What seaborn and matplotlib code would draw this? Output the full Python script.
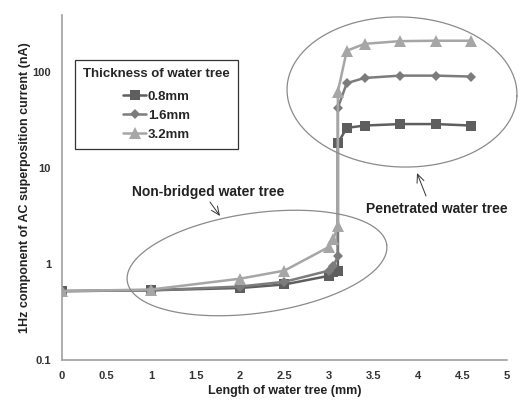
import numpy as np
import pandas as pd
import matplotlib
matplotlib.use("Agg")
import matplotlib.pyplot as plt
import seaborn as sns

# values
length_mm = [0, 1, 2, 2.5, 3.0, 3.05, 3.1, 3.1, 3.2, 3.4, 3.8, 4.2, 4.6]
current_08 = [0.52, 0.53, 0.56, 0.61, 0.75, 0.83, 0.85, 18, 26, 27.5, 28.5, 28.5, 27.5]
current_16 = [0.52, 0.53, 0.58, 0.65, 0.85, 0.95, 1.2, 42, 76, 86, 91, 91, 89]
current_32 = [0.52, 0.54, 0.70, 0.85, 1.5, 1.8, 2.5, 62, 165, 195, 208, 210, 210]
series_names = ["0.8mm", "1.6mm", "3.2mm"]

sns.set_theme(style="white")
plt.rcParams["font.family"] = ["Liberation Sans", "DejaVu Sans"]

rows = []
for name, vals in zip(series_names, [current_08, current_16, current_32]):
    for i, (x, y) in enumerate(zip(length_mm, vals)):
        rows.append({"x": x, "y": y, "Thickness": name, "order": i})
df = pd.DataFrame(rows)

fig = plt.figure(figsize=(5.22, 4.03), dpi=100)
ax = fig.add_axes([0.119, 0.107, 0.852, 0.856])

palette = {"0.8mm": "#5e5e5e", "1.6mm": "#7c7c7c", "3.2mm": "#a6a6a6"}
markers = {"0.8mm": "s", "1.6mm": "D", "3.2mm": "^"}
sizes = {"0.8mm": 7, "1.6mm": 5, "3.2mm": 8}

for name in series_names:
    sub = df[df["Thickness"] == name]
    sns.lineplot(data=sub, x="x", y="y", sort=False, estimator=None,
                 color=palette[name], marker=markers[name],
                 markersize=sizes[name], markeredgewidth=0,
                 linewidth=1.8, label=name, ax=ax)

ax.set_yscale("log")
ax.set_xlim(0, 5)
ax.set_ylim(0.1, 390)
ax.set_xticks(np.arange(0, 5.01, 0.5))
ax.set_xticklabels(["0", "0.5", "1", "1.5", "2", "2.5", "3", "3.5", "4", "4.5", "5"])
ax.set_yticks([0.1, 1, 10, 100])
ax.set_yticklabels(["0.1", "1", "10", "100"])

for side in ["top", "right"]:
    ax.spines[side].set_visible(False)
for side in ["left", "bottom"]:
    ax.spines[side].set_color("#a0a0a0")
    ax.spines[side].set_linewidth(1.2)
ax.tick_params(axis="both", which="both", direction="in", color="#a0a0a0",
               labelsize=8, labelcolor="#333333")
ax.tick_params(which="major", length=4, width=0.8)
ax.tick_params(which="minor", length=3, width=0.6)
ax.tick_params(axis="x", pad=8)
ax.tick_params(axis="y", pad=8)
for lab in ax.get_xticklabels() + ax.get_yticklabels():
    lab.set_fontweight("bold")

ax.set_xlabel("Length of water tree (mm)", fontsize=9, fontweight="bold",
              color="#222222", labelpad=3)
ax.set_ylabel("1Hz component of AC superposition current (nA)", fontsize=9,
              fontweight="bold", color="#222222", labelpad=1)


# ellipses drawn in pixel-like space of the axes
def ellipse(cx, cy, a, b, angle):
    t = np.linspace(0, 2 * np.pi, 200)
    th = np.deg2rad(angle)
    px = cx + a * np.cos(t) * np.cos(th) - b * np.sin(t) * np.sin(th)
    py = cy + a * np.cos(t) * np.sin(th) + b * np.sin(t) * np.cos(th)
    bbox = ax.get_window_extent()
    return (px - bbox.x0) / bbox.width, (py - bbox.y0) / bbox.height


fig.canvas.draw()
H = 403
ex, ey = ellipse(257, H - 263, 131, 50, 8)
ax.plot(ex, ey, transform=ax.transAxes, color="#8a8a8a", lw=0.9, clip_on=False)
ex, ey = ellipse(402, H - 92, 115, 75, -2)
ax.plot(ex, ey, transform=ax.transAxes, color="#8a8a8a", lw=0.9, clip_on=False)

arrow = dict(arrowstyle="->,head_length=0.5,head_width=0.22", color="#333333",
             lw=0.7, mutation_scale=12, shrinkA=0, shrinkB=0)
ax.annotate("", xy=(220 / 522, 1 - 216 / H), xytext=(210 / 522, 1 - 202 / H),
            xycoords="figure fraction", textcoords="figure fraction",
            arrowprops=arrow)
ax.annotate("", xy=(417 / 522, 1 - 173 / H), xytext=(426 / 522, 1 - 196 / H),
            xycoords="figure fraction", textcoords="figure fraction",
            arrowprops=arrow)
fig.text(208 / 522, 1 - 192 / H, "Non-bridged water tree", ha="center",
         va="center", fontsize=10, fontweight="bold", color="#222222")
fig.text(437 / 522, 1 - 209 / H, "Penetrated water tree", ha="center",
         va="center", fontsize=10, fontweight="bold", color="#222222")

leg = ax.legend(title="Thickness of water tree", loc="upper left",
                bbox_to_anchor=(0.029, 0.87), borderaxespad=0,
                frameon=True, fancybox=False,
                framealpha=1, edgecolor="#333333", handlelength=1.8,
                handletextpad=0.1, labelspacing=0.5, borderpad=0.6,
                alignment="center",
                prop={"weight": "bold", "size": 9.5},
                title_fontproperties={"weight": "bold", "size": 9.5})
leg.get_frame().set_linewidth(0.9)
leg._legend_box.sep = 8

fig.savefig("out.png", dpi=100)
